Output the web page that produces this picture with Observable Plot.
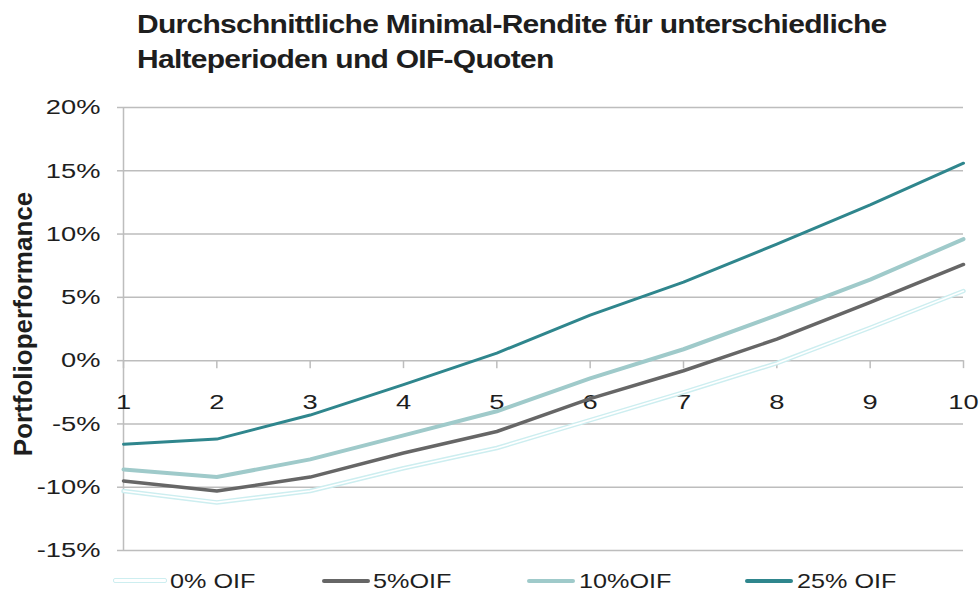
<!DOCTYPE html>
<html><head><meta charset="utf-8">
<script src="https://cdn.jsdelivr.net/npm/d3@7"></script>
<script src="https://cdn.jsdelivr.net/npm/@observablehq/plot@0.6"></script>
<style>
html,body{margin:0;padding:0;background:#fff;width:980px;height:596px;overflow:hidden;font-family:"Liberation Sans",Arial,sans-serif;color:#1e1e1e}
#title{position:absolute;left:137px;top:7px;font-weight:bold;font-size:25px;line-height:35px;transform:scaleX(1.2);transform-origin:left top;letter-spacing:-0.6px;white-space:nowrap}
#chart{position:absolute;left:0;top:85px}
#legend{position:absolute;left:0;top:566px;width:980px;height:30px}
.sw{position:absolute;top:13px;height:4px;border-radius:2px}
.lt{position:absolute;top:2px;font-size:21px;line-height:26px;transform:scaleX(1.2);transform-origin:left center;white-space:nowrap}
</style></head>
<body>
<div id="title">Durchschnittliche Minimal-Rendite für unterschiedliche<br>Halteperioden und OIF-Quoten</div>
<div id="chart"></div>
<div id="legend"></div>
<script>
const periods = [1,2,3,4,5,6,7,8,9,10];
const oif0  = [-10.3,-11.2,-10.3,-8.5,-6.9,-4.7,-2.5,-0.2,2.6,5.5];
const oif5  = [-9.5,-10.3,-9.2,-7.3,-5.6,-3.0,-0.8,1.7,4.6,7.6];
const oif10 = [-8.6,-9.2,-7.8,-5.9,-4.0,-1.4,0.9,3.6,6.4,9.6];
const oif25 = [-6.6,-6.2,-4.3,-1.9,0.6,3.6,6.2,9.2,12.3,15.6];
const seriesNames = ["0% OIF","5%OIF","10%OIF","25% OIF"];
const yTicks = [-15,-10,-5,0,5,10,15,20];
const yLabel = "Portfolioperformance";

const seriesValues = [oif0, oif5, oif10, oif25];
const rows = seriesNames.map((s, k) => periods.map((p, i) => ({series: s, period: p, value: seriesValues[k][i]})));

const grid = "#bdbdbd";
const styles = [
  {stroke: "#cdeef0", strokeWidth: 4.5, core: "#ffffff"},
  {stroke: "#666666", strokeWidth: 3.5},
  {stroke: "#9fcaca", strokeWidth: 4},
  {stroke: "#2f868d", strokeWidth: 3}
];

const lineMarks = [];
rows.forEach((data, k) => {
  const st = styles[k];
  lineMarks.push(Plot.line(data, {x: "period", y: "value", stroke: st.stroke, strokeWidth: st.strokeWidth, strokeLinejoin: "round", strokeLinecap: "round"}));
  if (st.core) lineMarks.push(Plot.line(data, {x: "period", y: "value", stroke: st.core, strokeWidth: 1.6, strokeLinejoin: "round"}));
});

const chart = Plot.plot({
  width: 980,
  height: 481,
  marginLeft: 123,
  marginRight: 17,
  marginTop: 22,
  marginBottom: 16,
  style: {background: "transparent", color: "#1e1e1e", fontFamily: "Liberation Sans, Arial, sans-serif"},
  x: {domain: [1, 10], axis: null},
  y: {domain: [-15, 20], axis: null},
  marks: [
    Plot.gridY(yTicks, {stroke: grid, strokeOpacity: 1, strokeWidth: 1.5}),
    Plot.ruleX([1], {y1: -15, y2: 20, stroke: grid, strokeWidth: 1.5}),
    Plot.axisY(yTicks, {tickFormat: d => d + "%", fontSize: 21, tickSize: 6, tickPadding: 17, stroke: grid, strokeWidth: 1.5, label: null}),
    Plot.ruleX(periods, {y1: 0, y2: 0, insetBottom: -8, stroke: grid, strokeWidth: 1.5}),
    Plot.text(periods, {x: d => d, y: 0, dy: 42, text: d => String(d), fontSize: 21}),
    Plot.text([yLabel], {frameAnchor: "left", textAnchor: "middle", dx: -100, dy: -5, rotate: -90, text: d => d, fontSize: 26, fontWeight: "bold"}),
    ...lineMarks
  ]
});
chart.querySelectorAll("text").forEach(t => {
  const tr = t.getAttribute("transform") || "";
  if (tr.includes("rotate")) return;
  t.setAttribute("transform", tr + " scale(1.3,1)");
});
document.getElementById("chart").appendChild(chart);

const legendLayout = [
  {sw: 113, w: 52, tx: 170},
  {sw: 322, w: 48, tx: 373},
  {sw: 527, w: 48, tx: 579},
  {sw: 745, w: 48, tx: 797}
];
const legend = document.getElementById("legend");
seriesNames.forEach((name, k) => {
  const L = legendLayout[k], st = styles[k];
  const sw = document.createElement("div");
  sw.className = "sw";
  sw.style.left = L.sw + "px";
  sw.style.width = L.w + "px";
  sw.style.background = st.core ? "#fff" : st.stroke;
  if (st.core) { sw.style.border = "1.5px solid " + st.stroke; sw.style.top = "12px"; sw.style.height = "3px"; }
  legend.appendChild(sw);
  const tx = document.createElement("div");
  tx.className = "lt";
  tx.style.left = L.tx + "px";
  tx.textContent = name;
  legend.appendChild(tx);
});
</script>
</body></html>
